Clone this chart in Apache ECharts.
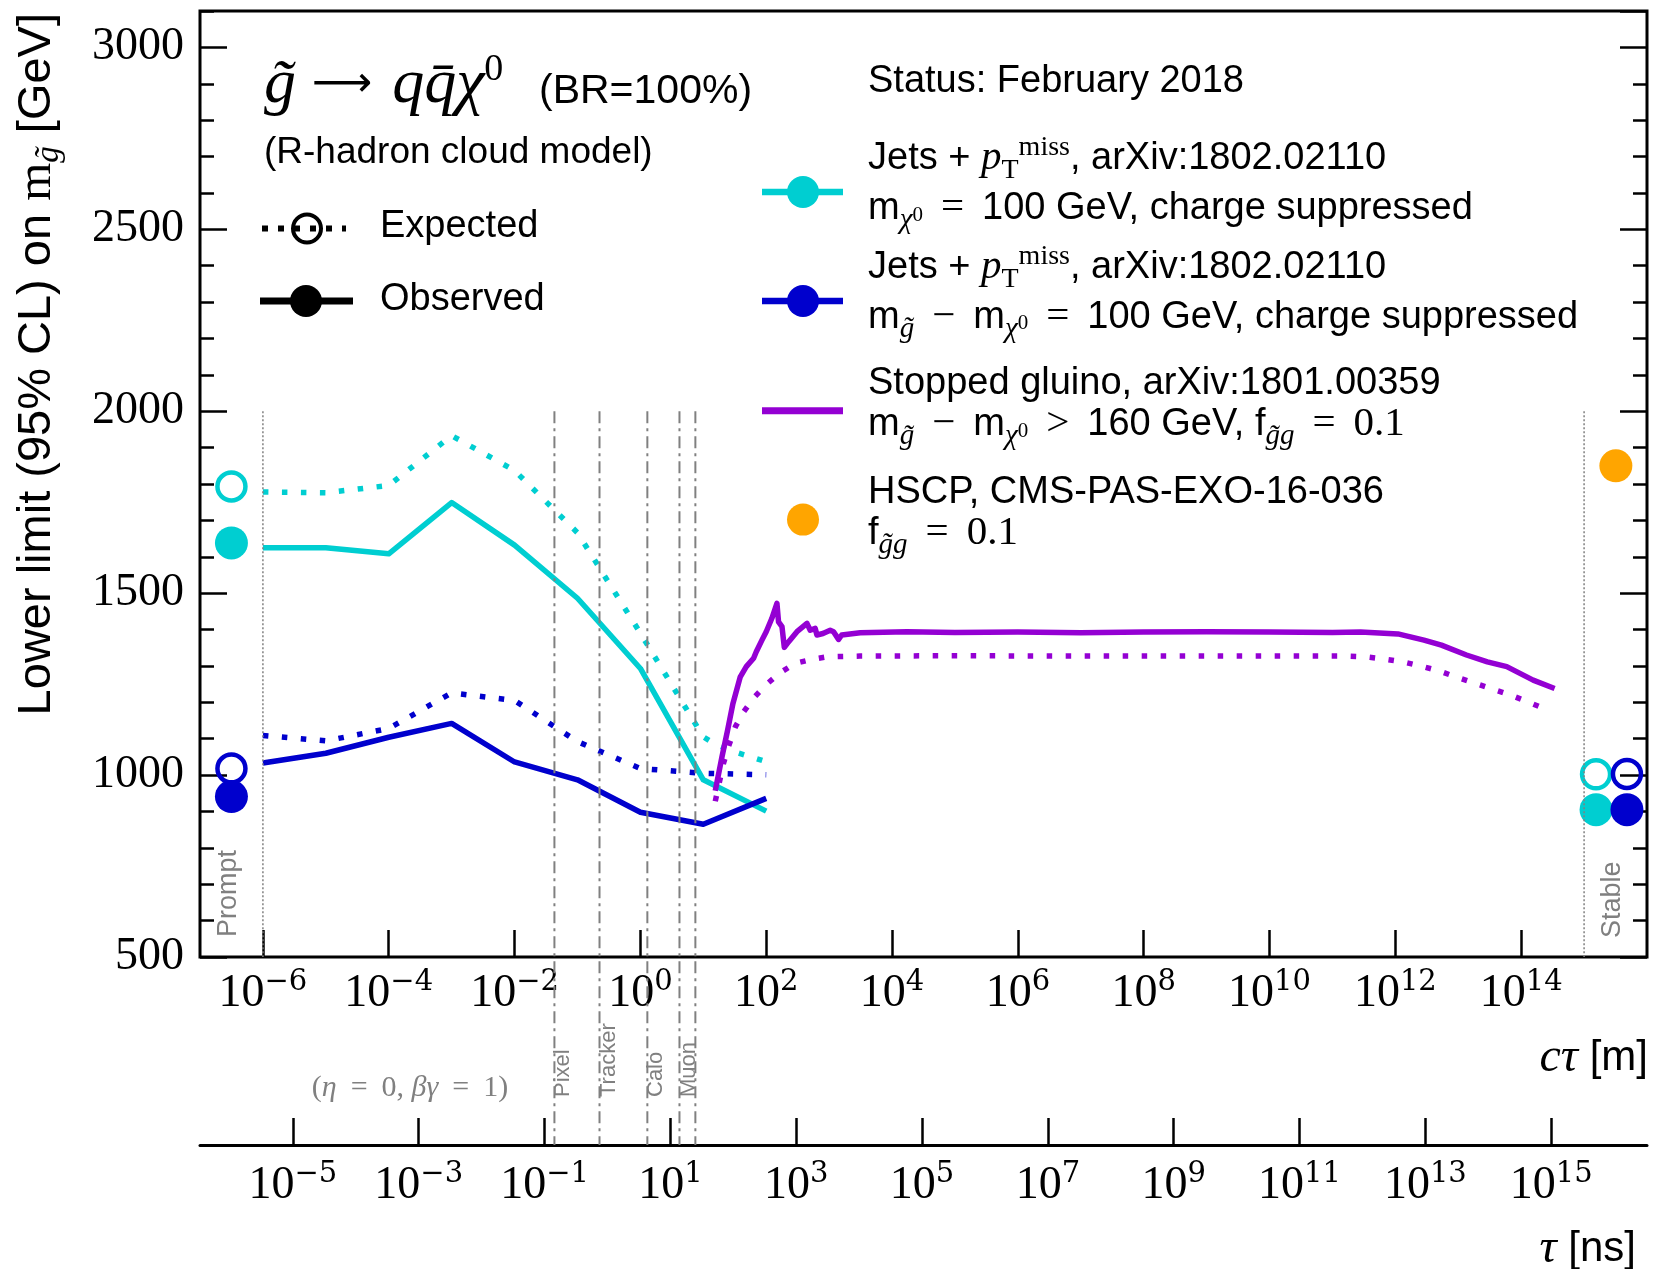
<!DOCTYPE html>
<html>
<head>
<meta charset="utf-8">
<script src="https://cdn.jsdelivr.net/npm/echarts@6/dist/echarts.min.js"></script>
<style>
  html, body { margin: 0; padding: 0; background: #fff; }
  #chart { width: 1654px; height: 1269px; }
</style>
</head>
<body>
<div id="chart"></div>
<script>
// ---- data (c*tau in metres, limits in GeV) ----
var ctTicks = [1e-6, 1e-4, 1e-2, 1, 1e2, 1e4, 1e6, 1e8, 1e10, 1e12, 1e14];
var tauTicks = [1e-5, 1e-3, 1e-1, 1e1, 1e3, 1e5, 1e7, 1e9, 1e11, 1e13, 1e15];

var jetsCt = [1e-6, 1e-5, 1e-4, 1e-3, 1e-2, 1e-1, 1, 10, 100];
var cyanObs = [1625, 1625, 1608, 1749, 1632, 1486, 1293, 987, 901];
var blueObs = [1033, 1060, 1104, 1142, 1036, 987, 898, 865, 936];
var blueExp = [1109, 1094, 1128, 1226, 1205, 1092, 1018, 1005, 1001];

var cyanExpCt = [1e-6, 1e-5, 1e-4, 1e-3, 1e-2, 1e-1, 1, 10, 15, 30, 100];
var cyanExp = [1778, 1776, 1796, 1933, 1837, 1666, 1390, 1105, 1086, 1065, 1037];

var stoppedObsCt = [15.5, 19.8, 24.3, 29.6, 38.7, 48.2, 63, 69.5, 85.5, 100, 123, 148, 157, 178, 194, 226,
  308, 444, 501, 601, 640, 798, 1040, 1175, 1413, 1585, 3120, 17300, 1e5, 1e6, 1e7, 1e8, 1e9, 1e10, 1e11,
  2.8e11, 1.1e12, 2.85e12, 5.4e12, 1.35e13, 2.9e13, 5.9e13, 1.55e14, 3.4e14];
var stoppedObs = [957, 1050, 1123, 1197, 1270, 1298, 1321, 1339, 1371, 1394, 1431, 1472, 1421, 1408, 1351, 1366,
  1394, 1417, 1398, 1403, 1385, 1389, 1398, 1394, 1373, 1385, 1391, 1394, 1392, 1393, 1391, 1393, 1394, 1393, 1392,
  1393, 1388, 1371, 1357, 1330, 1311, 1298, 1261, 1238];

var stoppedExpCt = [15.5, 20.9, 25.1, 32.4, 43.7, 67, 102, 166, 288, 537, 923, 3090, 1e5, 1e7, 1e9, 1e11,
  1.66e11, 3.4e11, 6.5e11, 1.32e12, 2.5e12, 4.8e12, 9.1e12, 1.74e13, 3.3e13, 6.3e13, 1.2e14, 2.45e14];
var stoppedExp = [928, 1032, 1078, 1133, 1174, 1217, 1250, 1281, 1307, 1318, 1325, 1327, 1328, 1327, 1327, 1327,
  1327, 1325, 1319, 1311, 1300, 1287, 1270, 1254, 1238, 1222, 1203, 1181];

// prompt / stable points
var cyanPtCt = [3.16e-7, 1.55e15];
var cyanPtExp = [1793, 1002];
var cyanPtObs = [1638, 905];
var bluePtCt = [3.16e-7, 4.8e15];
var bluePtExp = [1018, 1003];
var bluePtObs = [941, 905];
var hscpCt = [3.2e15];
var hscpVal = [1850];

// detector boundaries (c*tau, m)
var detectorCt = [0.043, 0.224, 1.29, 4.18, 7.48];
var detectorNames = ['Pixel', 'Tracker', 'Calo', 'Muon', ''];
var promptCt = 1e-6;
var stableCt = 1e15;

var C_LIGHT = 0.299792458; // m / ns

// ---- style ----
var CYAN = '#00CED1', BLUE = '#0000CD', PURPLE = '#9400D3', ORANGE = '#FFA500', GREY = '#808080';
var SANS = '"Liberation Sans", Arial, sans-serif';
var SERIF = '"Liberation Serif", "Times New Roman", serif';
var WSERIF = '"DejaVu Serif", serif';

var chart = echarts.init(document.getElementById('chart'));

function pairs(xs, ys) {
  return xs.map(function (x, i) { return [x, ys[i]]; });
}

function powLabel(v) {
  var e = Math.round(Math.log10(v));
  return '{b|10}{s|' + (e < 0 ? '\u2212' + (-e) : String(e)) + '}';
}

var expRich = {
  b: { fontFamily: SERIF, fontSize: 46, color: '#000', lineHeight: 52 },
  s: { fontFamily: WSERIF, fontSize: 29, color: '#000', lineHeight: 52, padding: [0, 0, 24, 0] }
};

function lineSeries(xs, ys, color, dotted) {
  return {
    type: 'line', xAxisIndex: 0, yAxisIndex: 0,
    data: pairs(xs, ys),
    symbol: 'none', showSymbol: false, silent: true, z: 3,
    lineStyle: { color: color, width: 5.5, type: dotted ? [5.5, 13.5] : 'solid', cap: 'butt', join: 'round' },
    emphasis: { disabled: true }
  };
}

function pointSeries(xs, ys, color, open) {
  return {
    type: 'scatter', xAxisIndex: 0, yAxisIndex: 0,
    data: pairs(xs, ys), symbol: 'circle', silent: true, z: 5,
    symbolSize: open ? 28 : 33,
    itemStyle: open ? { color: 'rgba(0,0,0,0)', borderColor: color, borderWidth: 4.5, opacity: 1 }
                    : { color: color, borderWidth: 0, opacity: 1 },
    emphasis: { disabled: true }
  };
}

function yAxisDef(pos, interval, len) {
  return {
    type: 'value', position: pos, min: 500, max: 3100, interval: interval,
    axisLine: { show: false },
    axisTick: { show: true, inside: true, length: len, lineStyle: { color: '#000', width: 2.5 } },
    axisLabel: { show: false },
    splitLine: { show: false }
  };
}

var yMain = yAxisDef('left', 500, 27);
yMain.axisLabel = {
  show: true, showMaxLabel: false, margin: 16, color: '#000', fontFamily: SERIF, fontSize: 46,
  formatter: function (v) { return String(v); }
};

var option = {
  animation: false,
  backgroundColor: '#fff',
  grid: {
    left: 200, right: 7, top: 11, bottom: 312,
    show: true, borderColor: '#000', borderWidth: 3, backgroundColor: 'transparent',
    containLabel: false, outerBoundsMode: 'none'
  },
  xAxis: [
    {
      type: 'log', logBase: 10, min: 1e-7, max: 1e16, position: 'bottom',
      axisLine: { show: false },
      axisTick: { show: true, inside: true, length: 27, customValues: ctTicks, lineStyle: { color: '#000', width: 2.5 } },
      axisLabel: { show: true, customValues: ctTicks, formatter: powLabel, margin: 11, rich: expRich },
      splitLine: { show: false }, minorTick: { show: false }
    },
    {
      type: 'log', logBase: 10, min: 1e-7 / C_LIGHT, max: 1e16 / C_LIGHT, position: 'bottom', offset: 188,
      axisLine: { show: true, lineStyle: { color: '#000', width: 3 } },
      axisTick: { show: true, inside: true, length: 27, customValues: tauTicks, lineStyle: { color: '#000', width: 2.5 } },
      axisLabel: { show: true, customValues: tauTicks, formatter: powLabel, margin: 15, rich: expRich },
      splitLine: { show: false }, minorTick: { show: false }
    }
  ],
  yAxis: [yMain, yAxisDef('left', 100, 14), yAxisDef('right', 500, 27), yAxisDef('right', 100, 14)],
  series: [
    lineSeries(cyanExpCt, cyanExp, CYAN, true),
    lineSeries(jetsCt, cyanObs, CYAN, false),
    lineSeries(jetsCt, blueExp, BLUE, true),
    lineSeries(jetsCt, blueObs, BLUE, false),
    lineSeries(stoppedExpCt, stoppedExp, PURPLE, true),
    lineSeries(stoppedObsCt, stoppedObs, PURPLE, false),
    pointSeries(cyanPtCt, cyanPtExp, CYAN, true),
    pointSeries(cyanPtCt, cyanPtObs, CYAN, false),
    pointSeries(bluePtCt, bluePtExp, BLUE, true),
    pointSeries(bluePtCt, bluePtObs, BLUE, false),
    pointSeries(hscpCt, hscpVal, ORANGE, false)
  ]
};

chart.setOption(option);

// ---- annotations placed through the axes ----
var px = function (v) { return chart.convertToPixel({ xAxisIndex: 0 }, v); };
var py = function (v) { return chart.convertToPixel({ yAxisIndex: 0 }, v); };
var yTop = py(2000);
var yBottom = py(500);
var yTau = yBottom + 188;

var lg = {
  sf: { font: '38px ' + SANS },
  mi: { font: 'italic 41px ' + SERIF },
  mr: { font: '41px ' + SERIF },
  op: { font: '41px ' + SERIF, padding: [0, 18, 0, 18] },
  sup: { font: '28px ' + SERIF, padding: [0, 0, 21, 0] },
  sub: { font: '28px ' + SERIF, padding: [25, 0, 0, 0] },
  subi: { font: 'italic 29px ' + SERIF, padding: [24, 0, 0, 0] },
  subsup: { font: '21px ' + SERIF, padding: [13, 0, 0, 0] },
  fmi: { font: 'italic 64px ' + SERIF },
  farr: { font: '42px "DejaVu Sans", sans-serif', padding: [0, 20, 0, 16] },
  fsup: { font: '38px ' + SERIF, padding: [0, 0, 31, 0] },
  yl: { font: '47px ' + SANS },
  ym: { font: '49px ' + SERIF },
  ysub: { font: 'italic 33px ' + SERIF, padding: [24, 0, 0, 0] },
  gi: { font: 'italic 30px ' + SERIF },
  gr: { font: '30px ' + SERIF },
  geq: { font: '30px ' + SERIF, padding: [0, 14, 0, 14] },
  ci: { font: 'italic 48px ' + SERIF },
  cs: { font: '42px ' + SANS }
};

function text(x, y, str, opts) {
  var o = opts || {};
  return {
    type: 'text', x: x, y: y, rotation: o.rotation || 0, silent: true, z: 10,
    style: {
      text: str, fill: o.fill || '#000', font: o.font || ('38px ' + SANS),
      align: o.align || 'left', verticalAlign: 'middle', lineHeight: o.lineHeight || 46, rich: lg
    }
  };
}
function seg(x1, y1, x2, y2, color, width, dash) {
  return {
    type: 'line', silent: true, z: 9,
    shape: { x1: x1, y1: y1, x2: x2, y2: y2 },
    style: { stroke: color, lineWidth: width, lineDash: dash || null }
  };
}
function dot(cx, cy, r, fill, stroke, lw) {
  return {
    type: 'circle', silent: true, z: 10,
    shape: { cx: cx, cy: cy, r: r },
    style: { fill: fill, stroke: stroke || null, lineWidth: lw || 0 }
  };
}

var g = [];

// prompt / stable boundaries
g.push(seg(px(promptCt), yTop, px(promptCt), yBottom, GREY, 1.5, [2, 2]));
g.push(seg(px(stableCt), yTop, px(stableCt), yBottom, GREY, 1.5, [2, 2]));
g.push(text(px(promptCt) - 34, yBottom - 20, 'Prompt', { rotation: Math.PI / 2, fill: GREY, font: '27px ' + SANS }));
g.push(text(px(stableCt) + 28, yBottom - 19, 'Stable', { rotation: Math.PI / 2, fill: GREY, font: '27px ' + SANS }));

// detector boundaries, running down to the tau axis
detectorCt.forEach(function (ct, i) {
  var x = px(ct);
  g.push(seg(x, yTop, x, yTau, GREY, 2, [12, 5, 3, 5]));
  if (detectorNames[i]) {
    g.push(text(x + 9, yBottom + 140, detectorNames[i], { rotation: Math.PI / 2, fill: GREY, font: '22px ' + SANS }));
  }
});
g.push(text(410, yBottom + 131, '{gr|(}{gi|\u03B7}{geq|=}{gr|0, }{gi|\u03B2\u03B3}{geq|=}{gr|1)}', { align: 'center', fill: GREY }));

// axis titles
g.push(text(37, 13, '{yl|Lower limit (95% CL) on }{ym|m}{ysub|g\u0303}{yl| [GeV]}',
  { rotation: Math.PI / 2, align: 'right', lineHeight: 56 }));
g.push(text(1648, 1058, '{ci|c\u03C4}{cs| [m]}', { align: 'right', lineHeight: 50 }));
g.push(text(1636, 1249, '{ci|\u03C4}{cs| [ns]}', { align: 'right', lineHeight: 50 }));

// left legend block
g.push(text(264, 85.4, '{fmi|g\u0303}{farr|\u27F6}{fmi|qq\u0304\u03C7}{fsup|0}', { lineHeight: 70 }));
g.push(text(539, 91.5, '(BR=100%)', { font: '41px ' + SANS }));
g.push(text(264, 152.6, '(R-hadron cloud model)', { font: '37px ' + SANS }));
g.push(seg(262, 228.5, 346, 228.5, '#000', 6, [6, 10]));
g.push(dot(307, 228.5, 14, 'rgba(0,0,0,0)', '#000', 4));
g.push(text(380, 227, 'Expected'));
g.push(seg(260, 301, 353, 301, '#000', 7));
g.push(dot(306, 301, 16, '#000'));
g.push(text(380, 300, 'Observed'));

// right legend block
var LX = 868;
g.push(text(LX, 81.8, 'Status: February 2018'));
g.push(seg(762, 192, 843, 192, CYAN, 6.5));
g.push(dot(803, 192, 16, CYAN));
g.push(text(LX, 158.2, '{sf|Jets + }{mi|p}{sub|T}{sup|miss}{sf|, arXiv:1802.02110}'));
g.push(text(LX, 208.6, '{sf|m}{subi|\u03C7}{subsup|0}{op|=}{sf|100 GeV, charge suppressed}'));
g.push(seg(762, 301, 843, 301, BLUE, 6.5));
g.push(dot(803, 301, 16, BLUE));
g.push(text(LX, 267.2, '{sf|Jets + }{mi|p}{sub|T}{sup|miss}{sf|, arXiv:1802.02110}'));
g.push(text(LX, 317.2, '{sf|m}{subi|g\u0303}{op|\u2212}{sf|m}{subi|\u03C7}{subsup|0}{op|=}{sf|100 GeV, charge suppressed}'));
g.push(seg(762, 410.7, 843, 410.7, PURPLE, 7));
g.push(text(LX, 383.2, 'Stopped gluino, arXiv:1801.00359'));
g.push(text(LX, 424.7, '{sf|m}{subi|g\u0303}{op|\u2212}{sf|m}{subi|\u03C7}{subsup|0}{op|>}{sf|160 GeV, f}{subi|g\u0303g}{op|=}{mr|0.1}'));
g.push(dot(803, 519.6, 16, ORANGE));
g.push(text(LX, 492.2, 'HSCP, CMS-PAS-EXO-16-036'));
g.push(text(LX, 533.2, '{sf|f}{subi|g\u0303g}{op|=}{mr|0.1}'));

chart.setOption({ graphic: g });
</script>
</body>
</html>
